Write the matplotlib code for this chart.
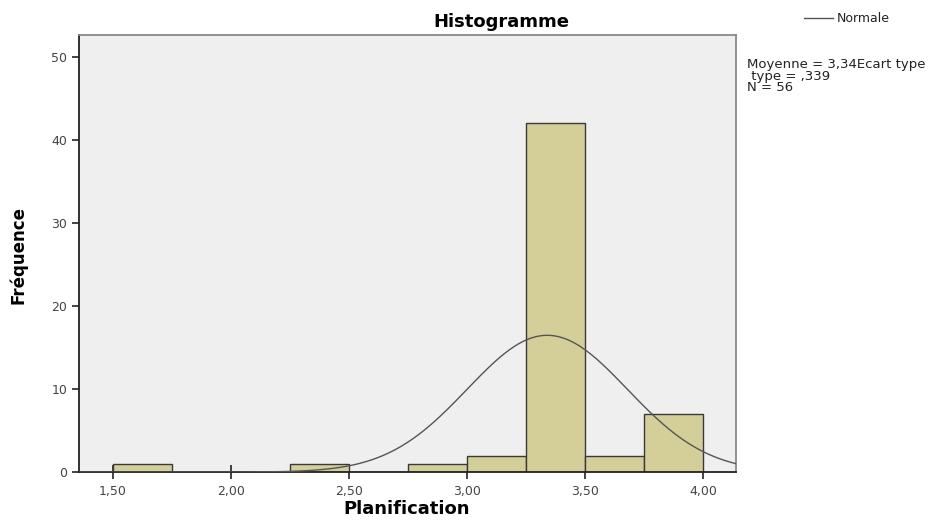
import numpy as np
import matplotlib.pyplot as plt

# Données de l'histogramme (bornes des classes et effectifs)
bornes = [1.50, 1.75, 2.00, 2.25, 2.50, 2.75, 3.00, 3.25, 3.50, 3.75, 4.00]
effectifs = [1, 0, 0, 1, 0, 1, 2, 42, 2, 7]
moyenne = 3.34
ecart_type = 0.339
n = 56
ticks_x = [1.50, 2.00, 2.50, 3.00, 3.50, 4.00]
labels_x = ["1,50", "2,00", "2,50", "3,00", "3,50", "4,00"]
ticks_y = [0, 10, 20, 30, 40, 50]

fig = plt.figure(figsize=(9.51, 5.20), dpi=100)
ax = fig.add_axes([0.083, 0.092, 0.691, 0.841])
ax.set_facecolor("#efefef")

largeur = np.diff(bornes)
ax.bar(bornes[:-1], effectifs, width=largeur, align="edge",
       color="#d4cf98", edgecolor="#3a3a3a", linewidth=1.0, zorder=2)

# Courbe normale
x = np.linspace(1.35, 4.15, 400)
h = bornes[1] - bornes[0]
y = n * h / (ecart_type * np.sqrt(2 * np.pi)) * np.exp(-0.5 * ((x - moyenne) / ecart_type) ** 2)
ax.plot(x, y, color="#555555", linewidth=1.0, zorder=3)

ax.set_xlim(1.356, 4.14)
ax.set_ylim(0, 52.65)
ax.set_xticks(ticks_x)
ax.set_xticklabels(labels_x)
ax.set_yticks(ticks_y)
ax.tick_params(axis="x", direction="inout", length=10, width=1.2, labelsize=9, colors="#222222",
               labelcolor="#444444", pad=4)
ax.tick_params(axis="y", direction="out", length=5, width=1.2, labelsize=9, colors="#222222",
               labelcolor="#444444")

for cote in ["left", "bottom"]:
    ax.spines[cote].set_color("#222222")
    ax.spines[cote].set_linewidth(1.3)
for cote in ["top", "right"]:
    ax.spines[cote].set_color("#888888")
    ax.spines[cote].set_linewidth(1.3)

fig.text(0.428, 0.021, "Planification", fontsize=13, fontweight="bold", ha="center", va="center")
fig.text(0.019, 0.51, "Fréquence", rotation=90, fontsize=12, fontweight="bold",
         family="Liberation Sans Narrow", ha="center", va="center")
fig.text(0.527, 0.958, "Histogramme", fontsize=13, fontweight="bold", ha="center", va="center")

# Légende et statistiques
fig.lines.append(plt.Line2D([0.845, 0.876], [0.965, 0.965], color="#555555", linewidth=1.0,
                            transform=fig.transFigure))
fig.text(0.880, 0.965, "Normale", fontsize=9, ha="left", va="center", color="#222222")
fig.text(0.786, 0.888, "Moyenne = 3,34Ecart type\n type = ,339\nN = 56", fontsize=9.5,
         ha="left", va="top", color="#222222", linespacing=0.85)

fig.savefig("out.png", dpi=100)
